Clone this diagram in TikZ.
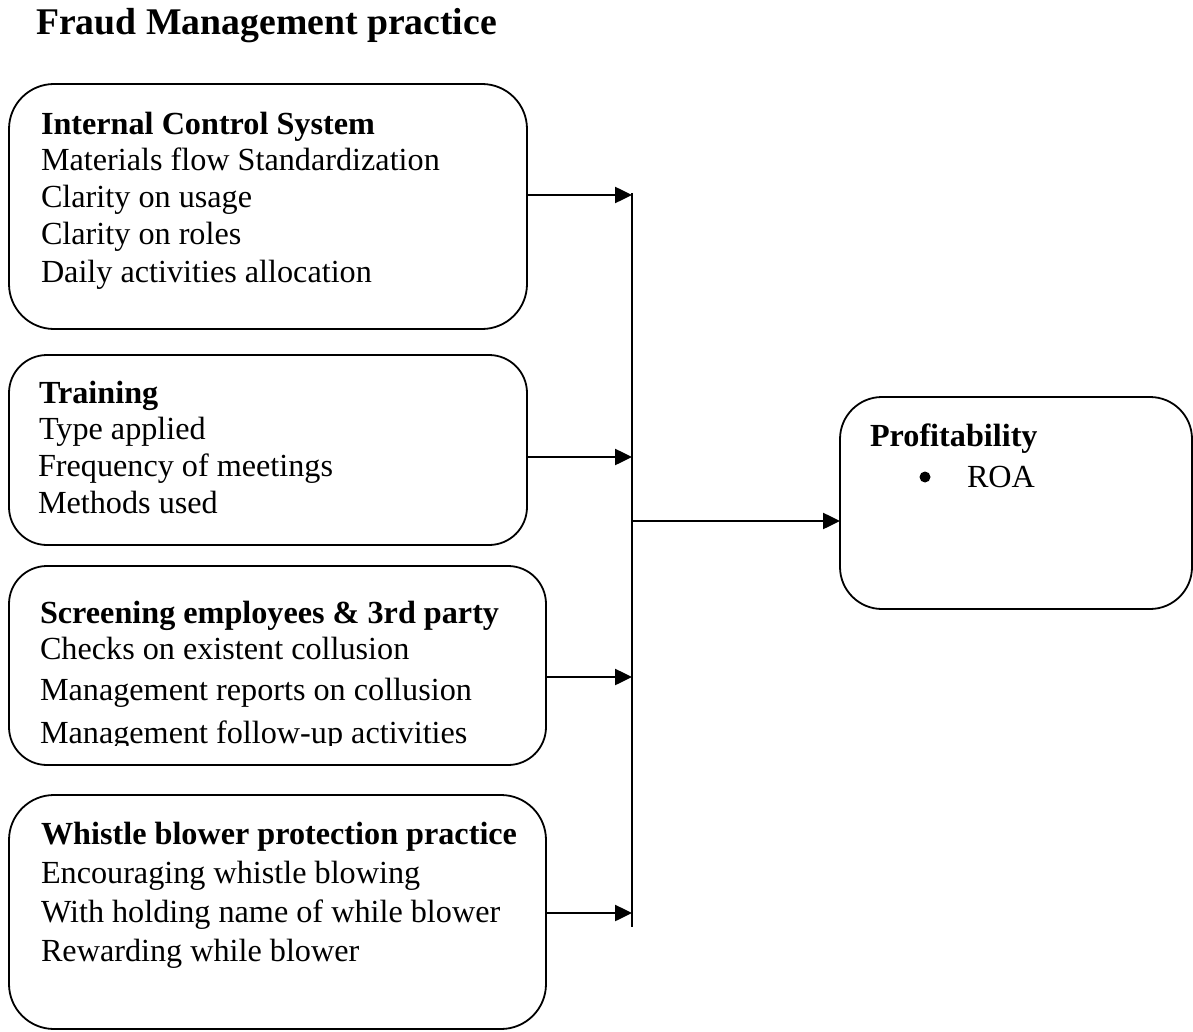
\documentclass[tikz,border=0pt]{standalone}
\usepackage{fontspec}
\setmainfont{Liberation Serif}
\usetikzlibrary{arrows.meta}
\tikzset{
  box/.style={draw, line width=1.8pt, rounded corners=40pt, outer sep=0pt, inner sep=0pt, anchor=north west},
  txt/.style={anchor=base west, inner sep=0pt, outer sep=0pt, font=\fontsize{32.2}{36}\selectfont},
  hd/.style={txt, font=\fontsize{32.2}{36}\selectfont\bfseries},
  arr/.style={line width=2.5pt, -{Triangle[length=17pt,width=16pt]}},
  bus/.style={line width=2pt}
}
\begin{document}
\begin{tikzpicture}[x=1pt,y=-1pt]
\useasboundingbox (0,0) rectangle (1193,1032);
% title
\node[anchor=base west, inner sep=0pt, font=\fontsize{37.7}{40}\selectfont\bfseries] (title) at (36,35) {Fraud Management practice};
% boxes
\node[box, minimum width=518pt, minimum height=245pt, rounded corners=45pt] (b1) at (9,84) {};
\node[box, minimum width=518pt, minimum height=190pt, rounded corners=38pt] (b2) at (9,355) {};
\node[box, minimum width=537pt, minimum height=199pt, rounded corners=38pt] (b3) at (9,566) {};
\node[box, minimum width=537pt, minimum height=234pt, rounded corners=45pt] (b4) at (9,795) {};
\node[box, minimum width=352pt, minimum height=212pt, rounded corners=42pt] (p) at (840,397) {};
% box 1 text
\node[hd] (t1h) at (41,135) {Internal Control System};
\node[txt] (t1a) at (41,171) {Materials flow Standardization};
\node[txt] (t1b) at (41,208) {Clarity on usage};
\node[txt] (t1c) at (41,245) {Clarity on roles};
\node[txt] (t1d) at (41,282) {Daily activities allocation};
% box 2 text
\node[hd] (t2h) at (39,403) {Training};
\node[txt] (t2a) at (39,439) {Type applied};
\node[txt] (t2b) at (38,476) {Frequency of meetings};
\node[txt] (t2c) at (38,513) {Methods used};
% box 3 text
\node[hd] (t3h) at (40,623) {Screening employees \& 3rd party};
\node[txt] (t3a) at (40,659) {Checks on existent collusion};
\node[txt] (t3b) at (40,700) {Management reports on collusion};
\begin{scope}
\clip (9,566) rectangle (546,745);
\node[txt] (t3c) at (40,743) {Management follow-up activities};
\end{scope}
% box 4 text
\node[hd] (t4h) at (41,844) {Whistle blower protection practice};
\node[txt] (t4a) at (41,883) {Encouraging whistle blowing};
\node[txt] (t4b) at (41,922) {With holding name of while blower};
\node[txt] (t4c) at (41,961) {Rewarding while blower};
% profitability text
\node[hd] (tph) at (870,446) {Profitability};
\node[circle, fill, minimum size=11pt, inner sep=0pt] (tpb) at (925,477) {};
\node[txt] (tpa) at (967,487) {ROA};
% connectors
\coordinate (top) at (632,193);
\coordinate (bot) at (632,927);
\coordinate (a1) at (632,195);
\coordinate (a2) at (632,457);
\coordinate (a3) at (632,677);
\coordinate (a4) at (632,913);
\coordinate (a5) at (632,521);
\draw[bus] (top) -- (bot);
\draw[arr] (b1.east |- a1) -- (a1);
\draw[arr] (b2.east |- a2) -- (a2);
\draw[arr] (b3.east |- a3) -- (a3);
\draw[arr] (b4.east |- a4) -- (a4);
\draw[arr] (a5) -- (p.west |- a5);
\end{tikzpicture}
\end{document}
